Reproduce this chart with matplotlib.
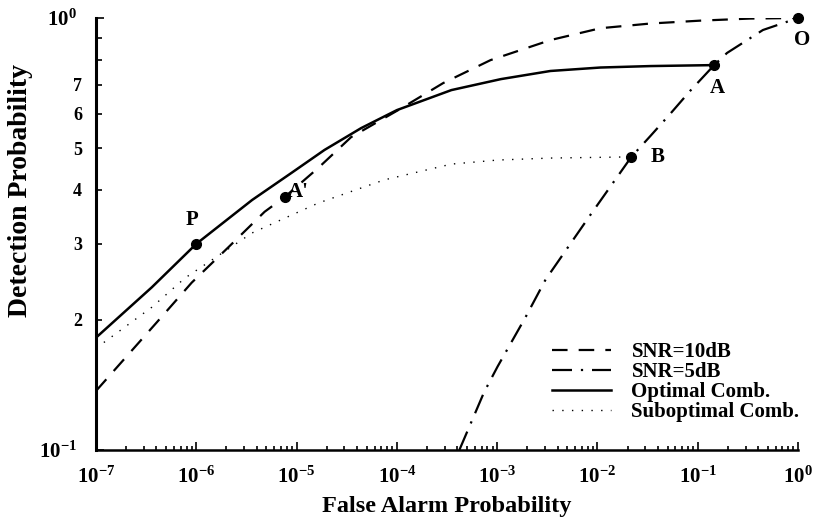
import matplotlib
matplotlib.use("Agg")
import matplotlib.pyplot as plt
from matplotlib.ticker import FixedLocator, FixedFormatter, NullFormatter

plt.rcParams['font.family'] = ['Liberation Serif', 'DejaVu Serif']
plt.rcParams['font.weight'] = 'bold'
plt.rcParams['mathtext.fontset'] = 'custom'
plt.rcParams['mathtext.rm'] = 'Liberation Serif:bold'
plt.rcParams['mathtext.it'] = 'Liberation Serif:bold:italic'
plt.rcParams['mathtext.bf'] = 'Liberation Serif:bold'

# ROC curves (false alarm prob, detection prob)
pfa_snr10 = [1e-7, 4.0e-7, 9.0e-7, 2.1e-6, 4.8e-6, 7.6e-6, 1.65e-5, 3.5e-5, 1.03e-4,
             2.9e-4, 8.6e-4, 3.4e-3, 1.07e-2, 0.0337, 0.106, 0.332, 1.0]
pd_snr10 = [0.137, 0.197, 0.244, 0.295, 0.356, 0.385, 0.450, 0.530, 0.612,
            0.707, 0.799, 0.889, 0.947, 0.971, 0.986, 0.997, 1.0]

pfa_snr5 = [4.2e-4, 7.4e-4, 1.01e-3, 1.92e-3, 3.04e-3, 8.5e-3, 0.0218, 0.0337,
            0.0532, 0.084, 0.146, 0.196, 0.447, 1.0]
pd_snr5 = [0.100, 0.136, 0.156, 0.203, 0.248, 0.350, 0.477, 0.533,
           0.600, 0.678, 0.778, 0.830, 0.938, 1.0]

pfa_opt = [1e-7, 3.6e-7, 1e-6, 3.6e-6, 8.9e-6, 1.9e-5, 4.4e-5, 1.0e-4, 3.5e-4,
           1.09e-3, 3.4e-3, 1.07e-2, 3.4e-2, 0.146]
pd_opt = [0.182, 0.238, 0.300, 0.379, 0.438, 0.495, 0.556, 0.612, 0.681,
          0.722, 0.754, 0.768, 0.774, 0.778]

pfa_sub = [1e-7, 3.6e-7, 7.7e-7, 3.6e-6, 7.6e-6, 1.65e-5, 7.5e-5, 3.5e-4, 1.01e-3, 3.4e-3, 0.0218]
pd_sub = [0.172, 0.214, 0.250, 0.318, 0.344, 0.373, 0.422, 0.459, 0.469, 0.474, 0.477]

# operating points
pt_names = ["P", "A'", "A", "B", "O"]
pt_pfa = [1e-6, 7.6e-6, 0.146, 0.0218, 1.0]
pt_pd = [0.300, 0.385, 0.778, 0.477, 1.0]
pt_offsets = [(-4, 24), (14, 5), (3, -23), (26, 0), (4, -22)]

xtick_vals = [1e-7, 1e-6, 1e-5, 1e-4, 1e-3, 1e-2, 1e-1, 1e0]
xtick_labels = ['$10^{-7}$', '$10^{-6}$', '$10^{-5}$', '$10^{-4}$',
                '$10^{-3}$', '$10^{-2}$', '$10^{-1}$', '$10^{0}$']
ytick_vals = [0.1, 1.0]
ytick_labels = ['$10^{-1}$', '$10^{0}$']
yminor_vals = [0.2, 0.3, 0.4, 0.5, 0.6, 0.7, 0.8, 0.9]
yminor_labels = ['2', '3', '4', '5', '6', '7', '', '']

fig = plt.figure(figsize=(8.16, 5.22), dpi=100)
ax = fig.add_axes([96 / 816, 1 - 450 / 522, 702 / 816, 432 / 522])

ax.plot(pfa_snr10, pd_snr10, color='black', lw=1.6, linestyle=(0, (7, 5)),
        label='SNR=10dB')
ax.plot(pfa_snr5, pd_snr5, color='black', lw=1.6, linestyle=(0, (9, 4, 1, 4)),
        label='SNR=5dB')
ax.plot(pfa_opt, pd_opt, color='black', lw=1.8, label='Optimal Comb.')
ax.plot(pfa_sub, pd_sub, color='black', lw=1.0, linestyle=(0, (1, 6)),
        label='Suboptimal Comb.')

ax.plot(pt_pfa, pt_pd, 'o', color='black', markersize=7, clip_on=False, zorder=5)
for name, x, y, off in zip(pt_names, pt_pfa, pt_pd, pt_offsets):
    ax.annotate(name, (x, y), xytext=off, textcoords='offset pixels',
                ha='center', va='center', fontsize=15, fontweight='bold')

ax.set_xscale('log')
ax.set_yscale('log')
ax.set_xlim(1e-7, 1.0)
ax.set_ylim(0.1, 1.0)

ax.xaxis.set_major_locator(FixedLocator(xtick_vals))
ax.xaxis.set_major_formatter(FixedFormatter(xtick_labels))
ax.xaxis.set_minor_formatter(NullFormatter())
ax.yaxis.set_major_locator(FixedLocator(ytick_vals))
ax.yaxis.set_major_formatter(FixedFormatter(ytick_labels))
ax.yaxis.set_minor_locator(FixedLocator(yminor_vals))
ax.yaxis.set_minor_formatter(FixedFormatter(yminor_labels))

ax.tick_params(axis='both', which='both', direction='in', width=1.2)
ax.tick_params(axis='x', which='major', length=6, pad=12, labelsize=15)
ax.tick_params(axis='x', which='minor', length=3)
ax.tick_params(axis='y', which='major', length=6, pad=14, labelsize=15)
ax.tick_params(axis='y', which='minor', length=4, pad=10, labelsize=13)

for side in ['top', 'right']:
    ax.spines[side].set_visible(False)
ax.spines['left'].set_linewidth(2.2)
ax.spines['bottom'].set_linewidth(1.8)

ax.set_xlabel('False Alarm Probability', fontsize=17.5, fontweight='bold', labelpad=6)
ax.set_ylabel('Detection Probability', fontsize=20, fontweight='bold')
ax.yaxis.set_label_coords(-0.09, 0.60)

ax.legend(loc='upper left', bbox_to_anchor=(0.65, 0.25), frameon=False,
          fontsize=15, handlelength=2.8, handletextpad=1.0, labelspacing=0.0,
          borderpad=0, borderaxespad=0)

fig.savefig('out.png', dpi=100)
